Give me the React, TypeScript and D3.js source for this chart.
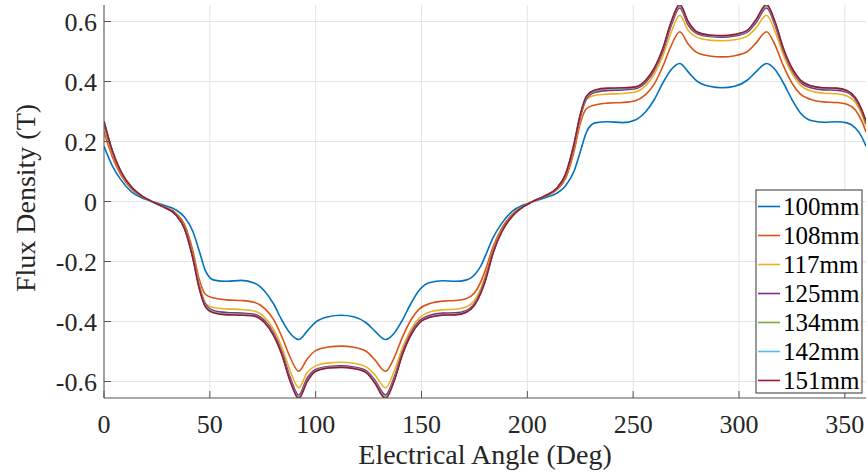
import React from "react";
import * as d3 from "d3";

const angles = [0,4,8,13,18,22,28,34,38,42,45,48,52,58,65,71,76,80,84,88,92,96,100,106,112,118,124,128,133,137,141,145,149,154,160,166,171,175,178,180,184,188,193,198,202,208,214,218,222,225,228,232,238,245,251,256,260,264,268,272,276,280,286,292,298,304,308,313,317,321,325,329,334,340,346,351,355,358,360];

const b100 = [0.184,0.118,0.072,0.032,0.012,0.002,-0.012,-0.028,-0.052,-0.100,
-0.165,-0.232,-0.262,-0.266,-0.263,-0.272,-0.300,-0.340,-0.395,-0.440,
-0.460,-0.432,-0.402,-0.384,-0.379,-0.384,-0.405,-0.432,-0.460,-0.440,
-0.395,-0.340,-0.295,-0.270,-0.264,-0.266,-0.262,-0.245,-0.215,-0.184,
-0.118,-0.072,-0.032,-0.012,-0.002,0.012,0.028,0.052,0.100,0.165,
0.232,0.262,0.266,0.263,0.272,0.300,0.340,0.395,0.440,0.460,
0.432,0.402,0.384,0.379,0.384,0.405,0.432,0.460,0.440,0.395,
0.340,0.295,0.270,0.264,0.266,0.262,0.245,0.215,0.184];

const b108 = [0.232,0.148,0.088,0.042,0.016,0.002,-0.016,-0.039,-0.076,-0.165,
-0.260,-0.310,-0.322,-0.328,-0.330,-0.336,-0.357,-0.392,-0.450,-0.520,
-0.566,-0.525,-0.497,-0.485,-0.482,-0.486,-0.500,-0.528,-0.566,-0.522,
-0.452,-0.395,-0.358,-0.340,-0.332,-0.330,-0.324,-0.305,-0.268,-0.232,
-0.148,-0.088,-0.042,-0.016,-0.002,0.016,0.039,0.076,0.165,0.260,
0.310,0.322,0.328,0.330,0.336,0.357,0.392,0.450,0.520,0.566,
0.525,0.497,0.485,0.482,0.486,0.500,0.528,0.566,0.522,0.452,
0.395,0.358,0.340,0.332,0.330,0.324,0.305,0.268,0.232];

const b117 = [0.250,0.158,0.095,0.045,0.017,0.002,-0.017,-0.042,-0.084,-0.178,
-0.275,-0.340,-0.354,-0.358,-0.360,-0.365,-0.387,-0.425,-0.485,-0.565,
-0.621,-0.570,-0.548,-0.538,-0.536,-0.539,-0.552,-0.578,-0.621,-0.568,
-0.488,-0.427,-0.388,-0.368,-0.361,-0.359,-0.352,-0.330,-0.290,-0.250,
-0.158,-0.095,-0.045,-0.017,-0.002,0.017,0.042,0.084,0.178,0.275,
0.340,0.354,0.358,0.360,0.365,0.387,0.425,0.485,0.565,0.621,
0.570,0.548,0.538,0.536,0.539,0.552,0.578,0.621,0.568,0.488,
0.427,0.388,0.368,0.361,0.359,0.352,0.330,0.290,0.250];

const b125 = [0.260,0.163,0.098,0.047,0.018,0.002,-0.018,-0.044,-0.088,-0.185,
-0.283,-0.343,-0.364,-0.370,-0.372,-0.376,-0.398,-0.437,-0.500,-0.587,
-0.645,-0.588,-0.560,-0.550,-0.548,-0.552,-0.565,-0.596,-0.645,-0.588,
-0.502,-0.438,-0.398,-0.379,-0.372,-0.371,-0.364,-0.340,-0.300,-0.260,
-0.163,-0.098,-0.047,-0.018,-0.002,0.018,0.044,0.088,0.185,0.283,
0.343,0.364,0.370,0.372,0.376,0.398,0.437,0.500,0.587,0.645,
0.588,0.560,0.550,0.548,0.552,0.565,0.596,0.645,0.588,0.502,
0.438,0.398,0.379,0.372,0.371,0.364,0.340,0.300,0.260];

const b134 = [0.265,0.166,0.099,0.048,0.018,0.002,-0.018,-0.045,-0.089,-0.188,
-0.287,-0.348,-0.368,-0.375,-0.376,-0.380,-0.403,-0.442,-0.507,-0.596,
-0.652,-0.596,-0.564,-0.553,-0.551,-0.555,-0.569,-0.602,-0.652,-0.596,
-0.508,-0.443,-0.403,-0.384,-0.377,-0.376,-0.368,-0.344,-0.304,-0.265,
-0.166,-0.099,-0.048,-0.018,-0.002,0.018,0.045,0.089,0.188,0.287,
0.348,0.368,0.375,0.376,0.380,0.403,0.442,0.507,0.596,0.652,
0.596,0.564,0.553,0.551,0.555,0.569,0.602,0.652,0.596,0.508,
0.443,0.403,0.384,0.377,0.376,0.368,0.344,0.304,0.265];

const b142 = [0.267,0.167,0.100,0.048,0.018,0.002,-0.018,-0.045,-0.090,-0.189,
-0.288,-0.350,-0.370,-0.376,-0.377,-0.381,-0.404,-0.444,-0.509,-0.598,
-0.655,-0.598,-0.565,-0.554,-0.552,-0.556,-0.570,-0.604,-0.655,-0.598,
-0.509,-0.444,-0.404,-0.385,-0.378,-0.377,-0.369,-0.345,-0.305,-0.267,
-0.167,-0.100,-0.048,-0.018,-0.002,0.018,0.045,0.090,0.189,0.288,
0.350,0.370,0.376,0.377,0.381,0.404,0.444,0.509,0.598,0.655,
0.598,0.565,0.554,0.552,0.556,0.570,0.604,0.655,0.598,0.509,
0.444,0.404,0.385,0.378,0.377,0.369,0.345,0.305,0.267];

const b151 = [0.268,0.168,0.100,0.048,0.018,0.002,-0.018,-0.045,-0.090,-0.190,
-0.290,-0.352,-0.372,-0.378,-0.379,-0.382,-0.405,-0.445,-0.510,-0.600,
-0.657,-0.600,-0.566,-0.555,-0.553,-0.557,-0.571,-0.606,-0.657,-0.600,
-0.510,-0.445,-0.405,-0.386,-0.379,-0.378,-0.370,-0.346,-0.306,-0.268,
-0.168,-0.100,-0.048,-0.018,-0.002,0.018,0.045,0.090,0.190,0.290,
0.352,0.372,0.378,0.379,0.382,0.405,0.445,0.510,0.600,0.657,
0.600,0.566,0.555,0.553,0.557,0.571,0.606,0.657,0.600,0.510,
0.445,0.405,0.386,0.379,0.378,0.370,0.346,0.306,0.268];

const seriesNames = ["100mm","108mm","117mm","125mm","134mm","142mm","151mm"];
const seriesValues = [b100,b108,b117,b125,b134,b142,b151];
const colors = ["#0072BD","#D95319","#EDB120","#7E2F8E","#77AC30","#4DBEEE","#A2142F"];

const xTicks = [0,50,100,150,200,250,300,350];
const yTicks = [-0.6,-0.4,-0.2,0,0.2,0.4,0.6];
const xLabel = "Electrical Angle (Deg)";
const yLabel = "Flux Density (T)";

const W = 868, H = 476;
const L = 104, R = 866, T = 5, B = 398;
const FONT = "Liberation Serif, Times New Roman, serif";

export default function App() {
  const x = d3.scaleLinear().domain([0, 360]).range([L, R]);
  const y = d3.scaleLinear().domain([-0.655, 0.655]).range([B, T]);
  const line = d3.line<number>()
    .x((_, i) => x(angles[i]))
    .y((d) => y(d))
    .curve(d3.curveMonotoneX);
  const txt = "#262626";
  const axisC = "#555";
  const gridC = "#e3e3e3";
  const legX = 756, legY = 190, legW = 106, legH = 203;
  const ts = { fontFamily: FONT };
  return (
    <svg width={W} height={H} style={{ position: "absolute", left: 0, top: 0, background: "#fff" }}>
      <defs>
        <clipPath id="plotclip">
          <rect x={L} y={T} width={R - L} height={B - T} />
        </clipPath>
      </defs>
      <rect x={0} y={0} width={W} height={H} fill="#fff" />
      {xTicks.map((t) => (
        <line key={"gx" + t} x1={x(t)} x2={x(t)} y1={T} y2={B} stroke={gridC} strokeWidth={1} />
      ))}
      {yTicks.map((t) => (
        <line key={"gy" + t} x1={L} x2={R} y1={y(t)} y2={y(t)} stroke={gridC} strokeWidth={1} />
      ))}
      <g clipPath="url(#plotclip)">
        {seriesValues.map((vals, i) => (
          <path key={seriesNames[i]} d={line(vals) || ""} fill="none" stroke={colors[i]} strokeWidth={1.6} />
        ))}
      </g>
      <line x1={L} x2={L} y1={T} y2={B} stroke={axisC} strokeWidth={1} />
      <line x1={L} x2={R} y1={B} y2={B} stroke={axisC} strokeWidth={1} />
      {xTicks.map((t) => (
        <g key={"tx" + t}>
          <line x1={x(t)} x2={x(t)} y1={B} y2={B - 7} stroke={axisC} strokeWidth={1} />
          <text x={x(t)} y={433} textAnchor="middle" fontSize={26} fill={txt} style={ts}>{t}</text>
        </g>
      ))}
      {yTicks.map((t) => (
        <g key={"ty" + t}>
          <line x1={L} x2={L + 7} y1={y(t)} y2={y(t)} stroke={axisC} strokeWidth={1} />
          <text x={97} y={y(t) + 9} textAnchor="end" fontSize={26} fill={txt} style={ts}>{String(t)}</text>
        </g>
      ))}
      <text x={(L + R) / 2} y={464} textAnchor="middle" fontSize={28} fill={txt} style={ts}>{xLabel}</text>
      <text transform={`translate(35, 198) rotate(-90)`} textAnchor="middle" fontSize={28} fill={txt} style={ts}>{yLabel}</text>
      <rect x={legX} y={legY} width={legW} height={legH} fill="#fff" stroke="#333" strokeWidth={1} />
      {seriesNames.map((n, i) => {
        const cy = 206.5 + i * 29;
        return (
          <g key={"lg" + n}>
            <line x1={758} x2={780} y1={cy} y2={cy} stroke={colors[i]} strokeWidth={1.6} />
            <text x={783} y={cy + 8.5} fontSize={25} fill="#000" style={ts}>{n}</text>
          </g>
        );
      })}
    </svg>
  );
}
